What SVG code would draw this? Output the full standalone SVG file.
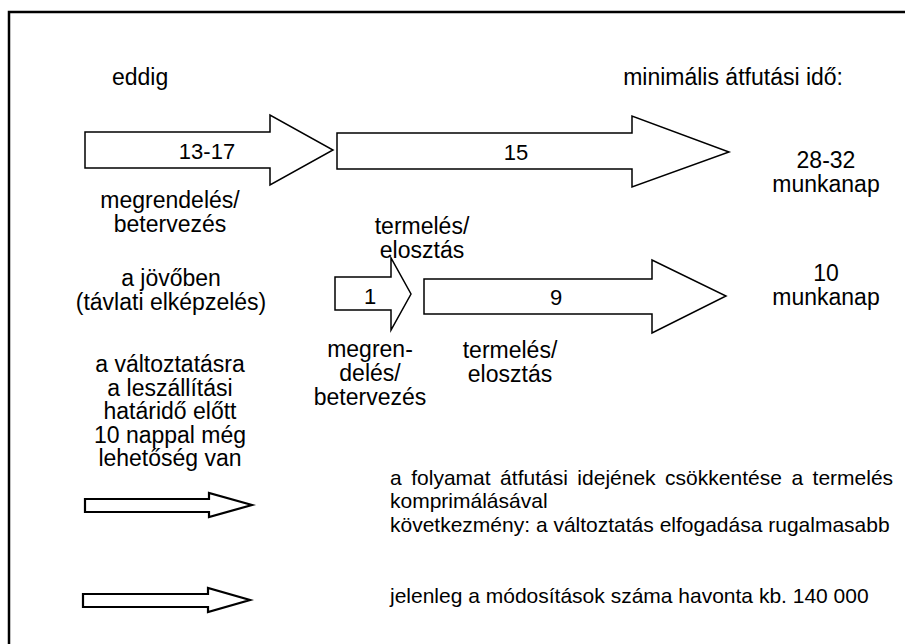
<svg xmlns="http://www.w3.org/2000/svg" width="905" height="644" viewBox="0 0 905 644">
<style>
text{font-family:"Liberation Sans",Arial,sans-serif;font-size:23px;fill:#000}
.c{text-anchor:middle}
.p{font-size:21px}
.n{font-size:22px}
.arr{fill:#fff;stroke:#000;stroke-width:1.5;stroke-linejoin:miter}
.sarr{fill:#fff;stroke:#000;stroke-width:2.2;stroke-linejoin:miter}
</style>
<rect x="0" y="0" width="905" height="644" fill="#fff"/>
<path d="M9,644 V12 H905" fill="none" stroke="#000" stroke-width="2.5"/>
<g id="connectors">
<polygon id="a1" class="arr" points="85,132 270,132 270,115 333,150 270,185 270,168 85,168"/>
<polygon id="a2" class="arr" points="337,133 632,133 632,116 729,152 632,187 632,169 337,169"/>
<polygon id="a3" class="arr" points="335,277 391,277 391,258 411,294 391,330 391,310 335,310"/>
<polygon id="a4" class="arr" points="424,279 652,279 652,260 726,296 652,333 652,314 424,314"/>
<polygon id="a5" class="sarr" points="85,499 209,499 209,493 252,505 209,517 209,512 85,512"/>
<polygon id="a6" class="sarr" points="83,594 208,594 208,588 250,600 208,612 208,607 83,607"/>
</g>
<g id="headers">
<text x="112" y="85">eddig</text>
<text x="843" y="85" text-anchor="end">minimális átfutási idő:</text>
</g>
<g id="n-1317"><text class="c n" x="207" y="159">13-17</text></g>
<g id="n-15"><text class="c n" x="516" y="160">15</text></g>
<g id="n-2832"><text class="c" x="826" y="168">28-32</text><text class="c" x="826" y="192">munkanap</text></g>
<g id="n-megr1"><text class="c" x="170" y="208">megrendelés/</text><text class="c" x="170" y="232">betervezés</text></g>
<g id="n-term1"><text class="c" x="422" y="234">termelés/</text><text class="c" x="422" y="258">elosztás</text></g>
<g id="n-jovo"><text class="c" x="171" y="286">a jövőben</text><text class="c" x="171" y="310">(távlati elképzelés)</text></g>
<g id="n-1"><text class="c n" x="370" y="304">1</text></g>
<g id="n-9"><text class="c n" x="556" y="305">9</text></g>
<g id="n-10"><text class="c" x="826" y="281">10</text><text class="c" x="826" y="305">munkanap</text></g>
<g id="n-valt">
<text class="c" x="170" y="372">a változtatásra</text>
<text class="c" x="170" y="395.5">a leszállítási</text>
<text class="c" x="170" y="419">határidő előtt</text>
<text class="c" x="170" y="442.5">10 nappal még</text>
<text class="c" x="170" y="466">lehetőség van</text>
</g>
<g id="n-megr2"><text class="c" x="370" y="357">megren-</text><text class="c" x="370" y="381">delés/</text><text class="c" x="370" y="405">betervezés</text></g>
<g id="n-term2"><text class="c" x="510" y="358">termelés/</text><text class="c" x="510" y="382">elosztás</text></g>
<g id="n-foly">
<text class="p" x="390" y="485" word-spacing="3.7">a folyamat átfutási idejének csökkentése a termelés</text>
<text class="p" x="390" y="508">komprimálásával</text>
<text class="p" x="390" y="532">következmény: a változtatás elfogadása rugalmasabb</text>
</g>
<g id="n-jel"><text class="p" x="390" y="603">jelenleg a módosítások száma havonta kb. 140 000</text></g>
</svg>
